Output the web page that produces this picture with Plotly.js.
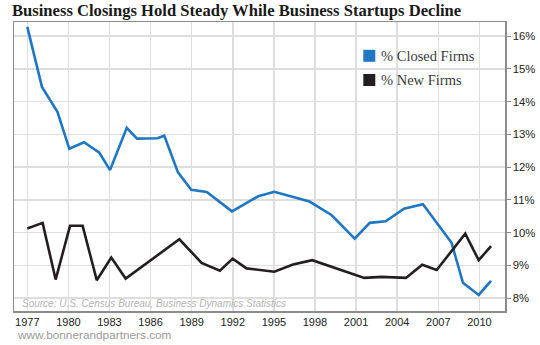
<!DOCTYPE html>
<html>
<head>
<meta charset="utf-8">
<script src="https://cdn.plot.ly/plotly-3.0.1.min.js"></script>
<style>html,body{margin:0;padding:0;background:#fff;}#chart{width:540px;height:345px;}</style>
</head>
<body>
<div id="chart"></div>
<script>
// Series names
var seriesNames = ["% Closed Firms", "% New Firms"];
// % Closed Firms (vertices)
var closedYears = [1977.0, 1978.07, 1979.2, 1980.07, 1981.14, 1982.26, 1983.04, 1984.26, 1985.01, 1986.5, 1987.0, 1988.0, 1988.97, 1990.1, 1991.94, 1993.86, 1995.03, 1997.6, 1999.2, 2000.9, 2002.0, 2003.16, 2004.5, 2005.88, 2007.97, 2008.8, 2009.95, 2010.85];
var closedPct = [16.28, 14.45, 13.69, 12.56, 12.76, 12.44, 11.91, 13.20, 12.87, 12.88, 12.96, 11.84, 11.31, 11.24, 10.65, 11.11, 11.25, 10.95, 10.54, 9.82, 10.30, 10.35, 10.73, 10.87, 9.69, 8.47, 8.10, 8.53];
// % New Firms
var newYears = [1977.0, 1978.12, 1979.07, 1980.12, 1981.04, 1982.07, 1983.13, 1984.18, 1988.1, 1989.72, 1991.06, 1991.99, 1993.0, 1995.03, 1996.4, 1997.8, 2001.6, 2002.87, 2004.64, 2005.83, 2006.88, 2008.97, 2009.95, 2010.85];
var newPct = [10.13, 10.30, 8.57, 10.21, 10.21, 8.55, 9.24, 8.60, 9.80, 9.08, 8.84, 9.21, 8.91, 8.81, 9.03, 9.16, 8.62, 8.65, 8.62, 9.02, 8.86, 9.97, 9.16, 9.59];
// Tick labels
var xTicks = [1977, 1980, 1983, 1986, 1989, 1992, 1995, 1998, 2001, 2004, 2007, 2010];
var yTicks = [8, 9, 10, 11, 12, 13, 14, 15, 16];
var yTickText = ["8%", "9%", "10%", "11%", "12%", "13%", "14%", "15%", "16%"];
var titleText = "Business Closings Hold Steady While Business Startups Decline";
var sourceText = "Source: U.S. Census Bureau, Business Dynamics Statistics";
var footerText = "www.bonnerandpartners.com";

var colors = ["#1f76c2", "#231f20"];

var traces = [
  {x: closedYears, y: closedPct, mode: "lines", name: seriesNames[0], line: {color: colors[0], width: 2.6}, showlegend: false},
  {x: newYears, y: newPct, mode: "lines", name: seriesNames[1], line: {color: colors[1], width: 2.6}, showlegend: false}
];

// plot area in pixels: left 14, right 505, top 22, bottom 311
var L = 14, R = 505, T = 22, B = 311;
function px(x){ return (x - L) / (R - L); }
function py(y){ return (B - y) / (B - T); }

var legendRows = [55.8, 80];
var shapes = [], annotations = [];
for (var i = 0; i < seriesNames.length; i++) {
  var cy = legendRows[i];
  shapes.push({type: "rect", xref: "paper", yref: "paper", x0: px(363.3), x1: px(375.3), y0: py(cy + 6), y1: py(cy - 6), fillcolor: colors[i], line: {width: 0}});
  annotations.push({xref: "paper", yref: "paper", x: px(379), y: py(cy), xanchor: "left", yanchor: "middle", text: seriesNames[i], showarrow: false, font: {family: "Liberation Serif, Times New Roman, serif", size: 14.5, color: "#3a3a3a"}});
}
annotations.push({xref: "paper", yref: "paper", x: px(19.5), y: py(303), xanchor: "left", yanchor: "middle", text: "<i>" + sourceText + "</i>", showarrow: false, font: {family: "Liberation Sans, Arial, sans-serif", size: 10, color: "#b4b4b4"}});
annotations.push({xref: "paper", yref: "paper", x: px(14.5), y: py(335.2), xanchor: "left", yanchor: "middle", text: footerText, showarrow: false, font: {family: "Liberation Sans, Arial, sans-serif", size: 11.8, color: "#9a9a9a"}});

var layout = {
  width: 540, height: 345,
  margin: {l: L, r: 540 - R, t: T, b: 345 - B, pad: 0},
  paper_bgcolor: "#ffffff", plot_bgcolor: "#ffffff",
  showlegend: false,
  title: {text: "<b>" + titleText + "</b>", xref: "container", yref: "container", x: 12 / 540, xanchor: "left", y: 1 - 10.5 / 345, yanchor: "middle", font: {family: "Liberation Serif, Times New Roman, serif", size: 16.6, color: "#1a1a1a"}},
  xaxis: {
    range: [1976.03, 2011.87], tickmode: "array", tickvals: xTicks, ticktext: xTicks.map(String),
    showgrid: true, gridcolor: "#dedede", gridwidth: 1.5, zeroline: false,
    showline: true, mirror: true, linecolor: "#8c8c8c", linewidth: 1.5,
    ticks: "", tickfont: {family: "Liberation Sans, Arial, sans-serif", size: 11, color: "#222"}
  },
  yaxis: {
    side: "right", range: [7.61, 16.43], tickmode: "array", tickvals: yTicks, ticktext: yTickText,
    showgrid: true, gridcolor: "#dedede", gridwidth: 1.5, zeroline: false,
    showline: true, mirror: true, linecolor: "#8c8c8c", linewidth: 1.5,
    ticks: "outside", ticklen: 4, tickcolor: "#8c8c8c", tickwidth: 1,
    tickfont: {family: "Liberation Sans, Arial, sans-serif", size: 11.3, color: "#222"}
  },
  shapes: shapes,
  annotations: annotations
};

Plotly.newPlot("chart", traces, layout, {staticPlot: true, displayModeBar: false});
</script>
</body>
</html>
